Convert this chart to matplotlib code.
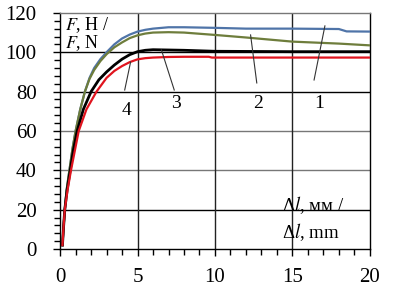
import matplotlib.pyplot as plt
from matplotlib.ticker import MultipleLocator

# Curve data (F vs elongation)
x1 = [0.15, 0.22, 0.3, 0.42, 0.6, 0.8, 1.0, 1.3, 1.6, 1.9, 2.2, 2.6, 3.0, 3.5, 4.0, 4.5, 5.0, 5.5, 6.0, 7.0, 8.0, 10.0, 12.0, 15.0, 18.0, 18.5, 20.0]
y1 = [2, 11, 20, 30, 40, 51, 60, 71, 80, 87, 92, 96.5, 100, 104, 107, 109, 110.5, 111.4, 112, 112.7, 112.7, 112.4, 112, 112, 111.8, 110.6, 110.5]

x2 = [0.15, 0.22, 0.3, 0.42, 0.6, 0.8, 1.0, 1.3, 1.6, 1.9, 2.2, 2.6, 3.0, 3.5, 4.0, 4.5, 5.0, 5.5, 6.0, 7.0, 8.0, 10.0, 12.0, 15.0, 18.0, 20.0]
y2 = [2, 11, 20, 30, 40, 51, 60, 71, 80, 86.5, 91, 95.5, 99, 102.5, 105, 107.2, 108.6, 109.5, 110, 110.2, 110, 108.8, 107.5, 105.4, 104.4, 103.5]

x3 = [0.15, 0.22, 0.3, 0.45, 0.65, 0.85, 1.1, 1.5, 2.0, 2.5, 3.0, 3.5, 4.0, 4.5, 5.0, 5.5, 6.0, 8.0, 10.0, 15.0, 20.0]
y3 = [2, 11, 20, 30, 40, 50, 60, 71, 80, 86, 90, 93.5, 96.5, 98.8, 100.3, 101, 101.3, 101, 100.5, 100.3, 100.3]

x4 = [0.15, 0.22, 0.3, 0.48, 0.7, 0.95, 1.2, 1.7, 2.35, 3.0, 3.5, 4.0, 4.5, 5.0, 5.5, 6.0, 7.0, 8.0, 9.6, 9.8, 15.0, 20.0]
y4 = [2, 11, 20, 30, 40, 50, 60, 71, 80, 87, 90.5, 93, 95, 96.4, 97, 97.3, 97.6, 97.7, 97.7, 97.3, 97.3, 97.3]

# curve number labels: (text, text x, text y, leader start, leader end)
labels = ['4', '3', '2', '1']
label_pos = [(4.3, 70.5), (7.5, 74.0), (12.8, 74.0), (16.7, 74.0)]
leader_from = [(4.17, 80.8), (7.37, 80.8), (12.7, 84.4), (16.4, 85.9)]
leader_to = [(4.55, 95.0), (6.54, 101.2), (12.3, 108.8), (17.1, 113.4)]

plt.rcParams['font.family'] = 'serif'
plt.rcParams['font.serif'] = ['Liberation Serif', 'DejaVu Serif']
plt.rcParams['mathtext.fontset'] = 'stix'

fig = plt.figure(figsize=(3.93, 2.93), dpi=100)
ax = fig.add_axes([0.153, 0.150, 0.788, 0.806])

# grid lines
for yv, c in [(20, 'black'), (40, '#777777'), (60, '#777777'), (80, 'black'), (100, 'black')]:
    ax.axhline(yv, color=c, lw=1.0, zorder=1)
for xv in [5, 10, 15]:
    ax.axvline(xv, color='#222222', lw=1.0, zorder=1)

ax.plot(x1, y1, color='#4f74a8', lw=1.6, zorder=3)
ax.plot(x2, y2, color='#6e7d3c', lw=1.6, zorder=3)
ax.plot(x3, y3, color='black', lw=2.0, zorder=4)
ax.plot(x4, y4, color='#e0141e', lw=1.6, zorder=4)

for t, p, a, b in zip(labels, label_pos, leader_from, leader_to):
    ax.plot([a[0], b[0]], [a[1], b[1]], color='#333333', lw=0.8, zorder=5)
    ax.text(p[0], p[1], t, fontsize=14, ha='center', va='center', zorder=6)

ax.text(0.3, 114.0, '$F$, H /', fontsize=13, ha='left', va='center')
ax.text(0.3, 104.5, '$F$, N', fontsize=13, ha='left', va='center')
ax.text(14.3, 22.5, 'Δ$l$, мм /', fontsize=13.5, ha='left', va='center')
ax.text(14.3, 8.6, 'Δ$l$, mm', fontsize=13.5, ha='left', va='center')

ax.set_xlim(0, 20)
ax.set_ylim(0, 120)
ax.xaxis.set_major_locator(MultipleLocator(5))
ax.xaxis.set_minor_locator(MultipleLocator(1))
ax.yaxis.set_major_locator(MultipleLocator(20))
ax.yaxis.set_minor_locator(MultipleLocator(4))
ax.tick_params(which='both', direction='out', labelsize=15, width=1.0)
ax.tick_params(which='major', length=5, pad=9)
ax.tick_params(which='minor', length=4)
ax.tick_params(axis='y', which='major', pad=12)

ax.spines['top'].set_color('#777777')
for s in ax.spines.values():
    s.set_linewidth(1.0)

fig.savefig('out.png', dpi=100)
